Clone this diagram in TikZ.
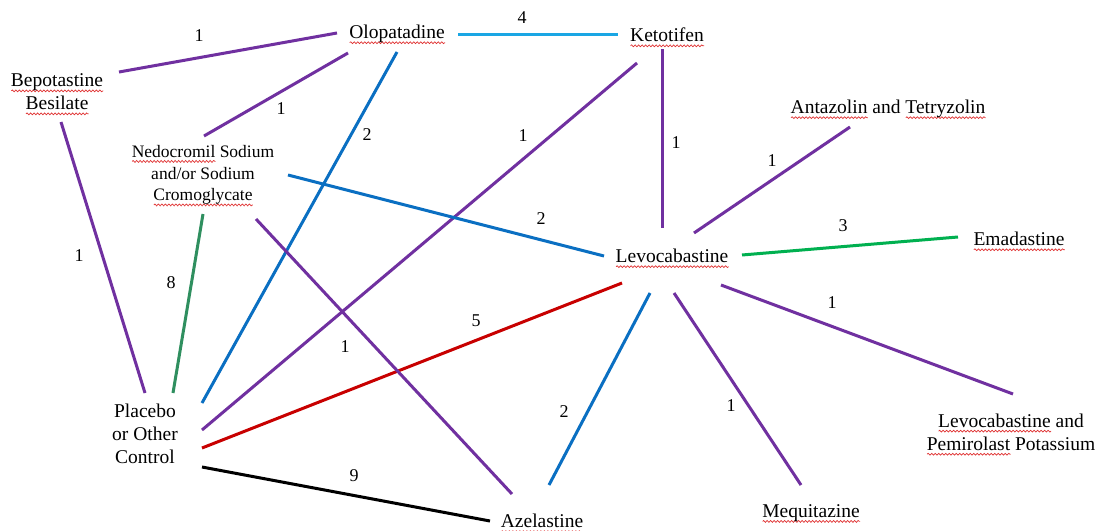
\documentclass[tikz,border=0pt]{standalone}
\usepackage{fontspec}
\setmainfont{Liberation Serif}
\usetikzlibrary{decorations.pathmorphing}
\definecolor{spellred}{HTML}{E03030}
\definecolor{cpurple}{HTML}{7030A0}
\definecolor{cblue}{HTML}{0A6FC2}
\definecolor{clight}{HTML}{1AA6E4}
\definecolor{cgreen}{HTML}{00B050}
\definecolor{cteal}{HTML}{2F8F5F}
\definecolor{cred}{HTML}{C80000}
\newsavebox\spellbox
\newcommand\spell[1]{\sbox\spellbox{#1}\rlap{\smash{\tikz[baseline=0pt]\draw[spellred,line width=0.7pt,decorate,decoration={snake,segment length=3.5pt,amplitude=0.9pt}] (0pt,-4pt) -- (\wd\spellbox,-4pt);}}\usebox\spellbox}
\tikzset{
  drug/.style={inner sep=0pt, font=\fontsize{19.5}{23}\selectfont, align=center},
  drugsmall/.style={inner sep=0pt, font=\fontsize{17.5}{21.8}\selectfont, align=center},
  num/.style={inner sep=0pt, font=\fontsize{18}{20}\selectfont},
  link/.style={line width=3pt},
}
\begin{document}
\begin{tikzpicture}[x=1pt,y=-1pt]
\useasboundingbox[fill=white] (0,0) rectangle (1097,530);
% drug nodes
\node[drug] (olo) at (397,34) {\spell{Olopatadine}};
\node[drug] (keto) at (667,35) {\spell{Ketotifen}};
\node[drug] (bepo) at (57,92) {\spell{Bepotastine}\\\spell{Besilate}};
\node[drugsmall] (nedo) at (203,175) {\spell{Nedocromil} Sodium\\and/or Sodium\\\spell{Cromoglycate}};
\node[drug] (antaz) at (888,109) {\spell{Antazolin} and \spell{Tetryzolin}};
\node[drug] (lev) at (672,256) {\spell{Levocabastine}};
\node[drug] (emad) at (1019,239) {\spell{Emadastine}};
\node[drug] (lp) at (1011,432) {\spell{Levocabastine} and\\\spell{Pemirolast} Potassium};
\node[drug] (meq) at (811,513) {\spell{Mequitazine}};
\node[drug] (azel) at (542,521) {\spell{Azelastine}};
\node[drug] (plac) at (145,434) {Placebo\\or Other\\Control};
% connector ends
\coordinate (bepo-olo) at (119,72);   \coordinate (olo-bepo) at (337,33);
\coordinate (olo-keto) at (458,34);   \coordinate (keto-olo) at (618,34);
\coordinate (olo-nedo) at (348,53);   \coordinate (nedo-olo) at (204,136);
\coordinate (olo-plac) at (397,52);   \coordinate (plac-olo) at (202,403);
\coordinate (keto-plac) at (637,63);  \coordinate (plac-keto) at (202,430);
\coordinate (keto-lev) at (662,49);   \coordinate (lev-keto) at (662,228);
\coordinate (antaz-lev) at (850,127); \coordinate (lev-antaz) at (694,233);
\coordinate (nedo-lev) at (288,175);  \coordinate (lev-nedo) at (604,256);
\coordinate (lev-emad) at (742,255);  \coordinate (emad-lev) at (958,237);
\coordinate (lev-lp) at (721,285);    \coordinate (lp-lev) at (1013,394);
\coordinate (lev-meq) at (674,293);   \coordinate (meq-lev) at (801,485);
\coordinate (lev-azel) at (650,293);  \coordinate (azel-lev) at (549,485);
\coordinate (lev-plac) at (622,283);  \coordinate (plac-lev) at (202,448);
\coordinate (nedo-azel) at (256,219); \coordinate (azel-nedo) at (512,494);
\coordinate (nedo-plac) at (203,214); \coordinate (plac-nedo) at (173,393);
\coordinate (bepo-plac) at (61,122);  \coordinate (plac-bepo) at (145,393);
\coordinate (plac-azel) at (202,467); \coordinate (azel-plac) at (490,521);
% connectors
\draw[link,cpurple] (bepo-olo) -- (olo-bepo);
\draw[link,clight] (olo-keto) -- (keto-olo);
\draw[link,cpurple] (olo-nedo) -- (nedo-olo);
\draw[link,cblue] (olo-plac) -- (plac-olo);
\draw[link,cpurple] (keto-plac) -- (plac-keto);
\draw[link,cpurple] (keto-lev) -- (lev-keto);
\draw[link,cpurple] (antaz-lev) -- (lev-antaz);
\draw[link,cblue] (nedo-lev) -- (lev-nedo);
\draw[link,cgreen] (lev-emad) -- (emad-lev);
\draw[link,cpurple] (lev-lp) -- (lp-lev);
\draw[link,cpurple] (lev-meq) -- (meq-lev);
\draw[link,cblue] (lev-azel) -- (azel-lev);
\draw[link,cred] (lev-plac) -- (plac-lev);
\draw[link,cpurple] (nedo-azel) -- (azel-nedo);
\draw[link,cteal] (nedo-plac) -- (plac-nedo);
\draw[link,cpurple] (bepo-plac) -- (plac-bepo);
\draw[link,black] (plac-azel) -- (azel-plac);
% labels
\node[num] (n1) at (199,36) {1};
\node[num] (n2) at (522,18) {4};
\node[num] (n3) at (281,109) {1};
\node[num] (n4) at (367,135) {2};
\node[num] (n5) at (523,136) {1};
\node[num] (n6) at (676,143) {1};
\node[num] (n7) at (772,161) {1};
\node[num] (n8) at (541,219) {2};
\node[num] (n9) at (843,226) {3};
\node[num] (n10) at (832,303) {1};
\node[num] (n11) at (731,406) {1};
\node[num] (n12) at (564,412) {2};
\node[num] (n13) at (476,321) {5};
\node[num] (n14) at (345,347) {1};
\node[num] (n15) at (171,283) {8};
\node[num] (n16) at (79,256) {1};
\node[num] (n17) at (354,476) {9};
\end{tikzpicture}
\end{document}
